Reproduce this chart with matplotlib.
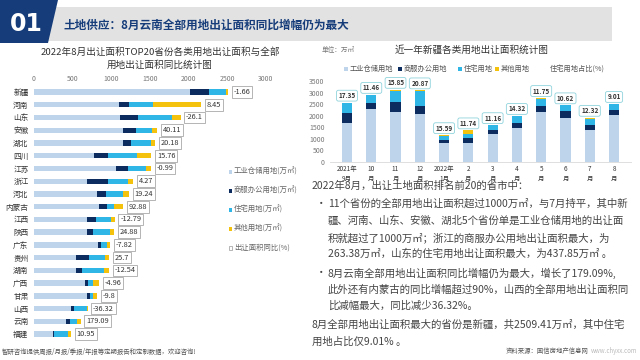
import matplotlib
matplotlib.use("Agg")
import matplotlib.pyplot as plt
from matplotlib.patches import Polygon, Rectangle

plt.rcParams['font.family'] = ['Noto Sans CJK SC', 'DejaVu Sans']

# ---------------- data ----------------
provinces = ['新疆', '河南', '山东', '安徽', '湖北', '四川', '江苏', '浙江', '河北', '内蒙古',
             '江西', '陕西', '广东', '贵州', '湖南', '广西', '甘肃', '山西', '云南', '福建']
industrial = [2020, 1096, 1117, 1152, 1147, 778, 1057, 690, 812, 838,
              683, 679, 829, 537, 546, 662, 679, 481, 417, 241]
commercial = [240, 133, 228, 172, 108, 185, 159, 263, 125, 103,
              121, 90, 39, 176, 81, 34, 43, 35, 47, 21]
residential = [226, 309, 438, 206, 262, 369, 228, 265, 215, 99,
               193, 219, 77, 202, 284, 73, 47, 172, 95, 181]
other = [23, 624, 112, 60, 47, 185, 69, 65, 77, 112,
         47, 48, 43, 60, 60, 69, 47, 4, 43, 38]
yoy = [-1.66, 8.45, -26.1, 40.11, 20.18, 15.76, -0.99, 4.27, 19.24, 92.88,
       -12.79, 24.88, -7.82, 25.7, -12.54, -4.96, -9.8, -36.32, 179.09, 10.95]

months = ['2021年\n9月', '10\n月', '11\n月', '12\n月', '2022年\n1月', '2\n月',
          '3\n月', '4\n月', '5\n月', '6\n月', '7\n月', '8\n月']
xj_ind = [1680, 2300, 2176, 2088, 810, 824, 1200, 1450, 2170, 1920, 1400, 2020]
xj_com = [420, 250, 398, 353, 150, 205, 200, 235, 230, 270, 215, 240]
xj_res = [445, 335, 485, 635, 185, 162, 178, 285, 325, 260, 235, 226]
xj_oth = [20, 15, 59, 20, 15, 177, 15, 20, 40, 0, 60, 23]
res_share = [17.35, 11.46, 15.85, 20.87, 15.59, 11.74, 11.16, 14.32, 11.75, 10.62, 12.32, 9.01]

legend_left = ['工业仓储用地(万㎡)', '商服办公用地(万㎡)', '住宅用地(万㎡)', '其他用地(万㎡)', '出让面积同比(%)']
legend_right = ['工业仓储用地', '商服办公用地', '住宅用地', '其他用地', '住宅用地占比(%)']

C_IND = '#bdd4ea'
C_COM = '#0c2b5e'
C_RES = '#2fb6e6'
C_OTH = '#f4c20d'
NAVY = '#163d7a'
colors = [C_IND, C_COM, C_RES, C_OTH]

W, H = 640, 360
fig = plt.figure(figsize=(6.4, 3.6), dpi=100)
fig.patch.set_facecolor('white')


def fx(x):
    return x / W


def fy(y):
    return 1 - y / H


# ---------------- header ----------------
fig.add_artist(Polygon([(fx(50), fy(7)), (fx(612), fy(7)), (fx(612), fy(41)), (fx(44), fy(41))],
                       closed=True, transform=fig.transFigure, facecolor='#e2e2e2', edgecolor='none'))
fig.add_artist(Polygon([(0, fy(0)), (fx(58), fy(0)), (fx(48), fy(43)), (0, fy(43))],
                       closed=True, transform=fig.transFigure, facecolor=NAVY, edgecolor='none'))
fig.text(fx(26), fy(24), '01', color='white', fontsize=17, fontweight='bold',
         ha='center', va='center', family='DejaVu Sans')
fig.text(fx(63), fy(25), '土地供应：8月云南全部用地出让面积同比增幅仍为最大', color=NAVY,
         fontsize=8.4, fontweight='bold', ha='left', va='center')

# ---------------- left chart ----------------
fig.text(fx(160), fy(52), '2022年8月出让面积TOP20省份各类用地出让面积与全部', fontsize=6.9,
         color='#333333', ha='center', va='center')
fig.text(fx(160), fy(65), '用地出让面积同比统计图', fontsize=6.9,
         color='#333333', ha='center', va='center')

row_h = 12.74
ax1 = fig.add_axes([fx(34), fy(92 + 19.5 * row_h), 232 / W, 20 * row_h / H])
ypos = list(range(len(provinces)))
left = [0] * len(provinces)
for vals, c in zip([industrial, commercial, residential, other], colors):
    ax1.barh(ypos, vals, left=left, color=c, height=0.42, edgecolor='none')
    left = [a + b for a, b in zip(left, vals)]
for i, (tot, v) in enumerate(zip(left, yoy)):
    ax1.annotate(f'{v:g}', xy=(tot, i), xytext=(4, 0), textcoords='offset points',
                 ha='left', va='center', fontsize=5.3, color='#333333',
                 bbox=dict(boxstyle='square,pad=0.25', fc='white', ec='#a8a8a8', lw=0.6))
ax1.set_xlim(0, 3000)
ax1.set_ylim(19.5, -0.5)
ax1.xaxis.tick_top()
ax1.set_xticks(range(0, 3001, 500))
ax1.tick_params(axis='x', length=0, labelsize=5, labelcolor='#777777', pad=2)
ax1.set_yticks(ypos)
ax1.set_yticklabels(provinces)
ax1.tick_params(axis='y', length=0, labelsize=5.5, labelcolor='#333333', pad=4)
for s in ax1.spines.values():
    s.set_visible(False)
ax1.patch.set_alpha(0)

# left legend
leg_y = [172, 191, 210, 229, 248]
for lab, yy, c in zip(legend_left, leg_y, colors + [None]):
    if c is None:
        fig.add_artist(Rectangle((fx(228.5), fy(yy + 1.7)), 3.4 / W, 3.4 / H, transform=fig.transFigure,
                                 facecolor='white', edgecolor='#999999', lw=0.5))
    else:
        fig.add_artist(Rectangle((fx(228.5), fy(yy + 1.7)), 3.4 / W, 3.4 / H, transform=fig.transFigure,
                                 facecolor=c, edgecolor='none'))
    fig.text(fx(234), fy(yy), lab, fontsize=5.3, color='#666666', ha='left', va='center')

# ---------------- right chart ----------------
fig.text(fx(322), fy(50), '单位：万㎡', fontsize=4.8, color='#777777', ha='left', va='center')
fig.text(fx(472), fy(50), '近一年新疆各类用地出让面积统计图', fontsize=6.9, color='#333333',
         ha='center', va='center')
leg_x = [346, 400, 460, 497, 546]
for lab, xx, c in zip(legend_right, leg_x, colors + [None]):
    if c is not None:
        fig.add_artist(Rectangle((fx(xx - 1.7), fy(69 + 1.7)), 3.4 / W, 3.4 / H,
                                 transform=fig.transFigure, facecolor=c, edgecolor='none'))
    fig.text(fx(xx + 4), fy(69), lab, fontsize=5.2, color='#555555', ha='left', va='center')

ax2 = fig.add_axes([fx(330), fy(162), 301 / W, 81 / H])
xs = list(range(len(months)))
bottom = [0] * len(months)
for vals, c in zip([xj_ind, xj_com, xj_res, xj_oth], colors):
    ax2.bar(xs, vals, bottom=bottom, color=c, width=0.42, edgecolor='none')
    bottom = [a + b for a, b in zip(bottom, vals)]
for i, (tot, v) in enumerate(zip(bottom, res_share)):
    ax2.annotate(f'{v:.2f}', xy=(i, tot), xytext=(0, 2.5), textcoords='offset points',
                 ha='center', va='bottom', fontsize=4.6, fontweight='bold', color='#333333',
                 bbox=dict(boxstyle='round,pad=0.3', fc='white', ec='#8fd3dc', lw=0.6))
ax2.set_xlim(-0.7, 11.7)
ax2.set_ylim(0, 3500)
ax2.set_yticks(range(0, 3501, 500))
ax2.set_xticks(xs)
ax2.set_xticklabels(months, linespacing=1.3)
ax2.tick_params(axis='y', length=0, labelsize=5, labelcolor='#777777', pad=4)
ax2.tick_params(axis='x', length=0, labelsize=4.6, labelcolor='#333333', pad=2)
for k in ['top', 'right', 'left']:
    ax2.spines[k].set_visible(False)
ax2.spines['bottom'].set_color('#d9d9d9')
ax2.spines['bottom'].set_linewidth(0.6)
ax2.patch.set_alpha(0)

# ---------------- body text ----------------
TXT = '#444444'
fs = 7.5
fig.text(fx(312), fy(186), '2022年8月，出让土地面积排名前20的省市中：', fontsize=fs, color=TXT,
         ha='left', va='center')
lines1 = ['11个省份的全部用地出让面积超过1000万㎡，与7月持平，其中新',
          '疆、河南、山东、安徽、湖北5个省份单是工业仓储用地的出让面',
          '积就超过了1000万㎡；浙江的商服办公用地出让面积最大，为',
          '263.38万㎡，山东的住宅用地出让面积最大，为437.85万㎡ 。']
lines2 = ['8月云南全部用地出让面积同比增幅仍为最大，增长了179.09%,',
          '此外还有内蒙古的同比增幅超过90%，山西的全部用地出让面积同',
          '比减幅最大，同比减少36.32%。']
ys1 = [204, 221, 238, 254]
ys2 = [273, 290, 306]
fig.text(fx(316), fy(ys1[0]), '•', fontsize=fs, color=TXT, ha='left', va='center')
fig.text(fx(316), fy(ys2[0]), '•', fontsize=fs, color=TXT, ha='left', va='center')
for t, yy in zip(lines1, ys1):
    fig.text(fx(328), fy(yy), t, fontsize=fs, color=TXT, ha='left', va='center')
for t, yy in zip(lines2, ys2):
    fig.text(fx(328), fy(yy), t, fontsize=fs, color=TXT, ha='left', va='center')
fig.text(fx(312), fy(325), '8月全部用地出让面积最大的省份是新疆，共2509.41万㎡，其中住宅',
         fontsize=fs, color=TXT, ha='left', va='center')
fig.text(fx(312), fy(342), '用地占比仅9.01% 。', fontsize=fs, color=TXT, ha='left', va='center')

# ---------------- footer ----------------
fig.text(fx(2), fy(352), '智研咨询提供周报/月报/季报/年报等定期报告和定制数据，欢迎咨询!', fontsize=4.6,
         color='#555555', ha='left', va='center')
fig.text(fx(506), fy(351), '资料来源：国信房地产信息网', fontsize=4.6, color='#555555',
         ha='left', va='center')
fig.text(fx(637), fy(351), 'www.chyxx.com', fontsize=4.4, color='#bbbbbb',
         ha='right', va='center')

fig.savefig('out.png', dpi=100)
